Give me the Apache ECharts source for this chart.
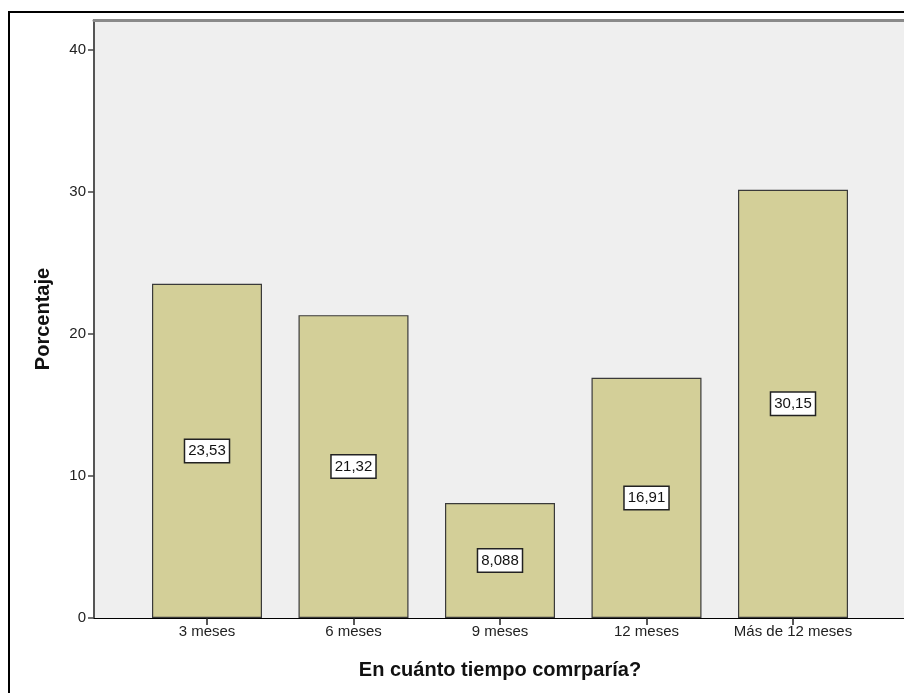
<!DOCTYPE html>
<html>
<head>
<meta charset="utf-8">
<script src="https://cdn.jsdelivr.net/npm/echarts@6/dist/echarts.min.js"></script>
<style>
  html, body { margin: 0; padding: 0; background: #fff; }
  #chart { width: 904px; height: 693px; }
</style>
</head>
<body>
<div id="chart"></div>
<script>
// Categories and percentages
const categories = ['3 meses', '6 meses', '9 meses', '12 meses', 'Más de 12 meses'];
const percentages = [23.53, 21.32, 8.088, 16.91, 30.15];
const yTicks = { min: 0, max: 42.1, interval: 10 };

const FONT = '"Liberation Sans", Arial, sans-serif';

const chart = echarts.init(document.getElementById('chart'), null, { renderer: 'canvas' });

chart.setOption({
  animation: false,
  backgroundColor: '#ffffff',
  graphic: [{
    type: 'rect',
    shape: { x: 9, y: 12, width: 940, height: 720 },
    style: { fill: 'none', stroke: '#000', lineWidth: 2 },
    silent: true,
    z: 10
  }],
  grid: [
    // plot frame with grey background
    { left: 94, right: 0, top: 20, bottom: 75, show: true, backgroundColor: '#efefef', borderWidth: 0 },
    // bar area
    { left: 133.75, width: 732.5, top: 20, bottom: 75 }
  ],
  xAxis: [
    {
      gridIndex: 0, type: 'value', position: 'bottom', min: 0, max: 1,
      axisLine: { show: true, lineStyle: { color: '#000', width: 1 } },
      axisTick: { show: false }, axisLabel: { show: false }, splitLine: { show: false }
    },
    {
      gridIndex: 0, type: 'value', position: 'top', min: 0, max: 1,
      axisLine: { show: true, lineStyle: { color: '#8a8a8a', width: 3 } },
      axisTick: { show: false }, axisLabel: { show: false }, splitLine: { show: false }
    },
    {
      gridIndex: 1, type: 'category', data: categories, position: 'bottom',
      axisLine: { show: false },
      axisTick: { show: true, alignWithLabel: true, length: 7, lineStyle: { color: '#222', width: 1.5 } },
      axisLabel: { color: '#222', fontSize: 15, fontFamily: FONT, margin: 6, interval: 0 },
      name: 'En cuánto tiempo comrparía?',
      nameLocation: 'middle',
      nameGap: 42,
      nameTextStyle: { color: '#111', fontSize: 20, fontWeight: 'bold', fontFamily: FONT }
    }
  ],
  yAxis: [
    {
      gridIndex: 0, type: 'value', min: yTicks.min, max: yTicks.max, interval: yTicks.interval,
      axisLine: { show: true, lineStyle: { color: '#555', width: 2 } },
      axisTick: { show: true, length: 6, lineStyle: { color: '#444', width: 1.5 } },
      axisLabel: { color: '#222', fontSize: 15, fontFamily: FONT, margin: 8, showMaxLabel: false },
      splitLine: { show: false },
      name: 'Porcentaje',
      nameLocation: 'middle',
      nameGap: 41,
      nameTextStyle: { color: '#111', fontSize: 20, fontWeight: 'bold', fontFamily: FONT }
    },
    {
      gridIndex: 1, type: 'value', min: yTicks.min, max: yTicks.max, interval: yTicks.interval,
      show: false, splitLine: { show: false }
    }
  ],
  series: [{
    type: 'bar',
    xAxisIndex: 2,
    yAxisIndex: 1,
    data: percentages,
    barWidth: 110,
    itemStyle: { color: '#d3cf98', borderColor: '#3a3a3a', borderWidth: 1.2 },
    label: {
      show: true,
      position: 'inside',
      formatter: p => String(p.value).replace('.', ','),
      color: '#111',
      fontSize: 15,
      fontFamily: FONT,
      backgroundColor: '#fff',
      borderColor: '#222',
      borderWidth: 1.5,
      padding: [4, 3, 3, 3]
    }
  }]
});
</script>
</body>
</html>
